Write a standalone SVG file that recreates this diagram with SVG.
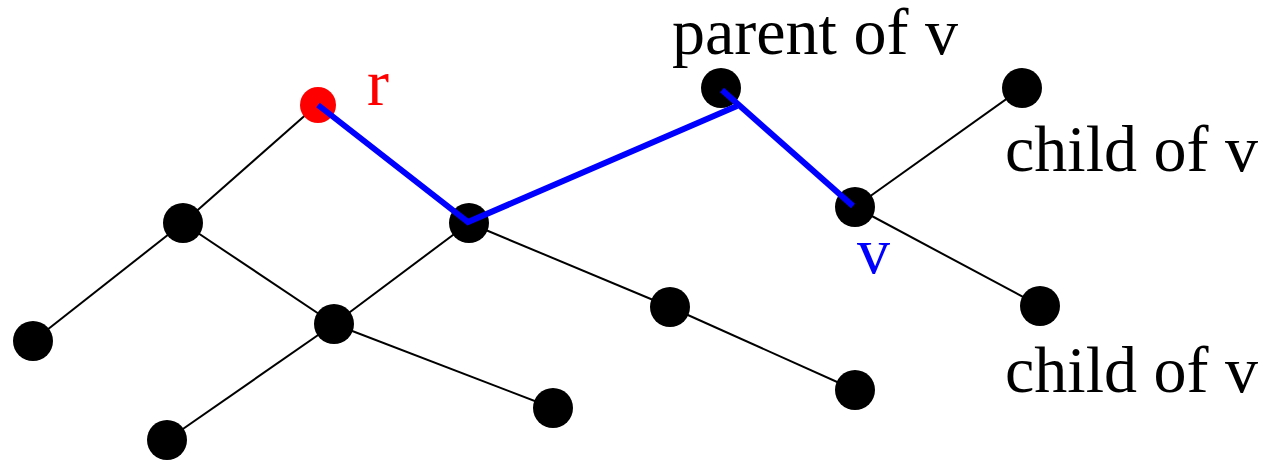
<svg xmlns="http://www.w3.org/2000/svg" width="1266" height="461" viewBox="0 0 1266 461">
<style>
.e{stroke:#000;stroke-width:2;fill:none}
.b{stroke:#0000ff;stroke-width:6;fill:none;stroke-linejoin:miter}
.n{fill:#000}
.t{font-family:"Liberation Serif","Times New Roman",serif;font-size:66px}
</style>
<rect width="1266" height="461" fill="#fff"/>
<g id="edges">
<line class="e" x1="318" y1="104" x2="183" y2="223"/>
<line class="e" x1="183" y1="223" x2="33" y2="341"/>
<line class="e" x1="183" y1="223" x2="334" y2="324"/>
<line class="e" x1="334" y1="324" x2="167" y2="440"/>
<line class="e" x1="334" y1="324" x2="553" y2="408"/>
<line class="e" x1="334" y1="324" x2="469" y2="223"/>
<line class="e" x1="469" y1="223" x2="670" y2="307"/>
<line class="e" x1="670" y1="307" x2="855" y2="390"/>
<line class="e" x1="855" y1="207" x2="1022" y2="88"/>
<line class="e" x1="855" y1="207" x2="1040" y2="306"/>
</g>
<g id="n-r"><circle cx="318" cy="105" r="18" fill="#ff0000"/></g>
<g id="n-a"><circle class="n" cx="183" cy="223" r="20"/></g>
<g id="n-b"><circle class="n" cx="33" cy="341" r="20"/></g>
<g id="n-c"><circle class="n" cx="334" cy="324" r="20"/></g>
<g id="n-d"><circle class="n" cx="167" cy="440" r="20"/></g>
<g id="n-e"><circle class="n" cx="553" cy="408" r="20"/></g>
<g id="n-f"><circle class="n" cx="469" cy="223" r="20"/></g>
<g id="n-g"><circle class="n" cx="670" cy="307" r="20"/></g>
<g id="n-h"><circle class="n" cx="855" cy="390" r="20"/></g>
<g id="n-p"><circle class="n" cx="721" cy="88" r="20"/></g>
<g id="n-v"><circle class="n" cx="855" cy="207" r="20"/></g>
<g id="n-c1"><circle class="n" cx="1022" cy="88" r="20"/></g>
<g id="n-c2"><circle class="n" cx="1040" cy="306" r="20"/></g>
<g id="path">
<polyline class="b" points="318,105 468,222 737,106"/>
<line class="b" x1="722" y1="90" x2="853" y2="206"/>
</g>
<g id="labels">
<text class="t" x="367" y="105" fill="#ff0000">r</text>
<text class="t" x="857" y="273" fill="#0000ff">v</text>
<text class="t" x="672" y="54">parent of v</text>
<text class="t" x="1005" y="171">child of v</text>
<text class="t" x="1005" y="392">child of v</text>
</g>
</svg>
